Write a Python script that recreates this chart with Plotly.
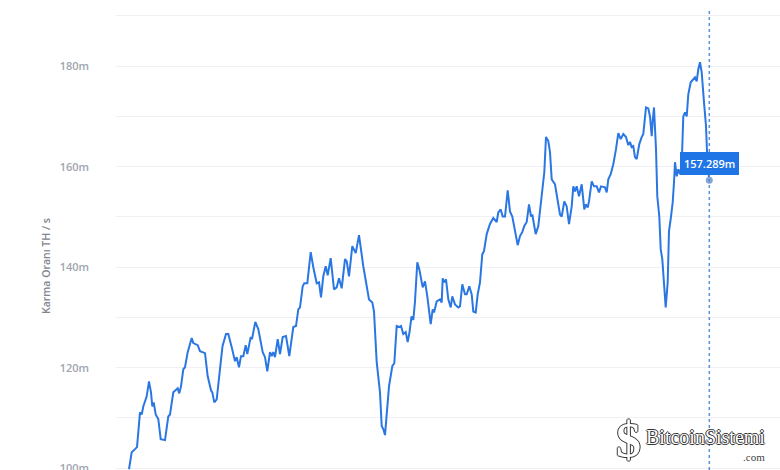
import plotly.graph_objects as go

# Hash rate series (day index, value in millions TH/s)
days = [0.0, 2.7, 6.0, 8.0, 11.0, 12.7, 14.3, 17.7, 20.0, 22.0, 23.3, 24.7, 26.7, 29.3, 31.7, 36.0,
        39.3, 41.0, 44.3, 48.7, 50.3, 52.0, 54.3, 56.0, 58.7, 62.7, 64.3, 68.7, 71.0, 76.0, 78.7,
        82.0, 83.3, 85.3, 87.7, 91.0, 93.5, 97.0, 99.3, 102.7, 106.0, 107.7, 110.0, 112.0, 114.3,
        116.7, 118.3, 121.7, 123.0, 126.3, 129.3, 133.7, 136.0, 138.3, 141.0, 142.7, 144.3, 146.0,
        148.7, 151.0, 153.7, 157.0, 160.3, 164.3, 167.0, 169.3, 171.0, 173.7, 175.3, 178.3, 181.7,
        184.3, 187.7, 190.0, 192.0, 194.3, 196.7, 198.7, 201.7, 205.0, 207.7, 210.0, 212.7, 216.0,
        217.7, 220.0, 223.3, 226.7, 230.0, 234.3, 237.7, 240.0, 243.3, 245.0, 247.7, 251.0, 252.7,
        254.3, 256.0, 257.7, 260.0, 263.3, 265.3, 267.7, 270.0, 272.0, 274.3, 276.7, 278.7, 280.5,
        282.5, 284.3, 286.0, 288.3, 290.3, 293.7, 296.0, 298.3, 301.7, 303.7, 305.0, 307.7, 311.0,
        312.7, 313.7, 315.3, 317.0, 319.3, 321.7, 323.3, 326.0, 329.3, 331.0, 333.3, 336.0, 337.7,
        340.3, 342.7, 344.3, 346.7, 348.7, 351.0, 353.3, 355.0, 357.7, 361.0, 364.3, 366.0, 367.7,
        369.3, 371.7, 373.7, 376.0, 378.7, 381.0, 383.3, 386.0, 388.7, 391.0, 393.3, 395.3, 397.7,
        400.0, 402.0, 403.3, 406.7, 409.3, 412.7, 415.3, 417.0, 419.3, 421.0, 422.7, 426.0, 428.3,
        431.0, 432.7, 435.3, 437.7, 440.0, 442.7, 444.3, 446.0, 447.7, 450.0, 452.7, 455.3, 456.7,
        458.7, 460.0, 462.7, 465.0, 467.7, 470.0, 472.0, 474.3, 476.0, 477.7, 479.3, 481.7, 484.3,
        487.0, 489.3, 491.7, 494.3, 497.0, 499.3, 501.0, 502.7, 504.3, 506.0, 507.7, 510.3, 512.7,
        514.3, 517.0, 519.3, 521.0, 522.7, 523.7, 525.0, 527.0, 528.3, 530.3, 531.7, 533.3, 535.0,
        536.7, 538.7, 540.0, 541.7, 543.7, 545.0, 546.0, 547.7, 549.3, 551.0, 552.7, 554.3, 556.0,
        557.7, 559.3, 561.7, 564.3, 566.0, 567.7, 569.3, 571.0, 572.7, 575.0, 577.0, 578.3, 580.3]

hashrate = [99.8, 103.2, 103.8, 104.2, 111.1, 110.7, 112.3, 114.3, 117.3, 115.1, 112.3, 113.1, 110.7,
            109.8, 105.8, 105.6, 110.3, 110.7, 115.1, 115.9, 114.9, 116.3, 119.7, 120.1, 123.1, 125.9,
            124.9, 124.5, 123.3, 122.9, 118.3, 115.5, 115.1, 113.1, 113.7, 120.1, 124.3, 126.7, 126.7,
            124.1, 121.3, 122.1, 120.1, 122.3, 122.3, 124.5, 122.7, 126.1, 125.7, 129.1, 127.7, 123.1,
            122.1, 119.3, 123.1, 122.3, 123.1, 122.1, 125.7, 122.7, 126.1, 126.3, 122.3, 128.1, 128.3,
            131.6, 132.0, 136.2, 136.8, 136.8, 143.0, 140.0, 136.8, 137.0, 134.0, 138.2, 140.2, 138.4,
            141.8, 135.6, 136.0, 137.8, 135.8, 141.6, 141.2, 138.2, 144.2, 142.8, 146.4, 140.2, 136.6,
            133.6, 133.0, 131.2, 121.1, 115.1, 108.4, 107.8, 106.6, 111.1, 116.3, 120.3, 120.9, 128.3,
            128.1, 128.3, 126.7, 127.1, 125.1, 127.1, 130.2, 129.5, 133.2, 141.0, 139.6, 136.0, 137.2,
            134.2, 128.7, 131.6, 131.0, 133.2, 133.6, 133.0, 137.8, 137.0, 137.6, 133.6, 132.0, 134.2,
            132.6, 132.0, 132.2, 136.6, 134.6, 134.6, 136.2, 134.6, 131.2, 131.0, 134.6, 137.0, 142.6,
            143.2, 146.6, 148.6, 149.8, 149.4, 149.0, 150.9, 151.5, 150.1, 150.1, 155.3, 151.1, 150.1,
            147.6, 144.4, 146.2, 147.0, 148.2, 149.0, 152.5, 150.1, 150.5, 146.6, 148.2, 154.1, 158.9,
            165.9, 165.1, 162.9, 157.5, 156.5, 154.1, 150.5, 150.1, 153.1, 152.1, 148.6, 152.1, 156.1,
            155.1, 156.1, 154.1, 156.5, 151.5, 152.5, 151.9, 153.1, 157.1, 156.1, 156.1, 154.9, 156.1,
            155.9, 155.9, 154.9, 157.5, 158.5, 160.5, 163.5, 166.7, 165.5, 166.5, 165.9, 164.3, 164.9,
            163.9, 164.1, 161.9, 161.5, 164.5, 165.9, 166.5, 171.8, 171.6, 170.0, 166.1, 169.1, 171.8,
            163.5, 154.1, 150.1, 143.6, 141.6, 136.2, 132.0, 137.0, 147.2, 149.6, 152.9, 156.9, 160.9,
            158.1, 159.5, 158.5, 160.5, 170.0, 170.8, 170.0, 174.4, 176.8, 177.4, 177.8, 177.0, 179.4,
            180.8, 178.8, 172.8, 168.1, 161.5, 157.289]

y_title = "Karma Oranı TH / s"
last_label = "157.289m"

W, H = 780, 470
L = 116
PW = W - L

def px(xp):
    return (xp - L) / PW

def py(yp):
    return 1 - yp / H

fig = go.Figure()
fig.add_trace(go.Scatter(
    x=days, y=hashrate, mode="lines",
    line=dict(color="#2a77e3", width=2),
    hoverinfo="skip", showlegend=False,
))
fig.add_trace(go.Scatter(
    x=[days[-1]], y=[hashrate[-1]], mode="markers",
    marker=dict(color="#86a6d8", size=7),
    hoverinfo="skip", showlegend=False,
))

fig.add_shape(type="line", xref="x", yref="paper",
              x0=days[-1], x1=days[-1], y0=0, y1=py(9),
              line=dict(color="#5a8fdb", width=1.5, dash="dot"))

fig.add_annotation(x=days[-1], y=hashrate[-1], xref="x", yref="y",
                   text=last_label, showarrow=False, xanchor="center", yanchor="bottom", yshift=5,
                   bgcolor="#1f74e6", bordercolor="#1f74e6", borderpad=3,
                   font=dict(family="Open Sans", size=11, color="white", weight=600))

fig.add_annotation(x=px(46), y=py(266), xref="paper", yref="paper",
                   xanchor="center", yanchor="middle",
                   text=y_title, textangle=-90, showarrow=False,
                   font=dict(family="Open Sans", size=10.5, color="#80858f", weight=600))

# watermark
outline = "-1px 0 #333333, 1px 0 #333333, 0 -1px #333333, 0 1px #333333"
fig.add_annotation(x=px(628), y=py(440), xref="paper", yref="paper",
                   xanchor="center", yanchor="middle",
                   text="$", showarrow=False,
                   font=dict(family="Liberation Serif", size=50, color="white", weight=700, shadow=outline))
fig.add_annotation(x=px(644), y=py(437), xref="paper", yref="paper",
                   xanchor="left", yanchor="middle",
                   text="BitcoinSistemi", showarrow=False,
                   font=dict(family="Liberation Serif", size=20, color="white", shadow=outline))
fig.add_annotation(x=px(767), y=py(457), xref="paper", yref="paper",
                   xanchor="right", yanchor="middle",
                   text=".com", showarrow=False,
                   font=dict(family="Liberation Serif", size=11, color="#444444"))

fig.update_xaxes(range=[-13, 651], showgrid=False, showticklabels=False,
                 zeroline=False, showline=False, fixedrange=True, automargin=False)
fig.update_yaxes(range=[99.65, 193.18], dtick=20, tick0=100, ticksuffix="m",
                 showgrid=True, gridcolor="#eef0f3", gridwidth=1,
                 minor=dict(dtick=10, tick0=100, showgrid=True, gridcolor="#eef0f3", gridwidth=1),
                 zeroline=False, showline=False, ticklabelstandoff=26,
                 ticklabeloverflow="allow", automargin=False,
                 tickfont=dict(family="Open Sans", size=11, color="#a0a5ae", weight=600))

fig.update_layout(width=W, height=H, margin=dict(l=L, r=0, t=0, b=0, autoexpand=False),
                  paper_bgcolor="white", plot_bgcolor="white", showlegend=False)

fig.write_html("out.html", config={"displayModeBar": False},
               post_script="document.body.style.margin='0';document.body.style.overflow='hidden';")
